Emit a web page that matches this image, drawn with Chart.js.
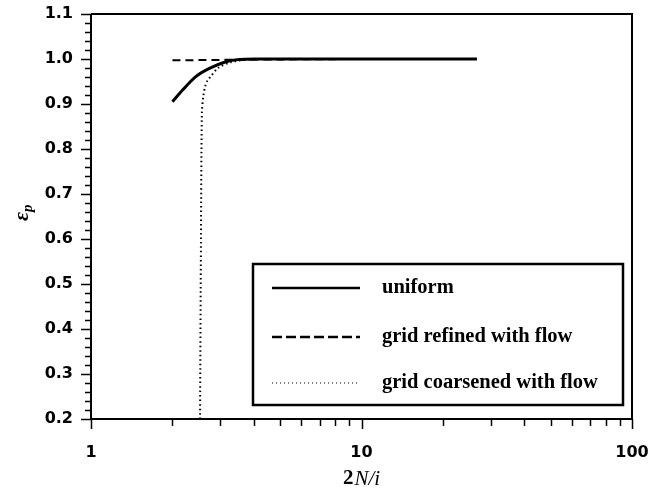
<!DOCTYPE html>
<html>
<head>
<meta charset="utf-8">
<script src="https://cdn.jsdelivr.net/npm/chart.js@4.4.0/dist/chart.umd.min.js"></script>
<style>
    html, body { margin: 0; padding: 0; background: #fff; }
    #wrap { width: 650px; height: 493px; }
</style>
</head>
<body>
<div id="wrap"><canvas id="chart" width="650" height="493"></canvas></div>
<script>
// data
const uniformX = [2.0, 2.18, 2.44, 2.74, 3.15, 3.53, 4.2, 5, 7, 10, 15, 20, 26.7];
const uniformY = [0.905, 0.931, 0.961, 0.979, 0.994, 0.999, 1.0, 1.0, 1.0, 1.0, 1.0, 1.0, 1.0];

const refinedX = [2.0, 3, 5, 10, 26.7];
const refinedY = [0.997, 0.998, 0.999, 1.0, 1.0];

const coarseX = [2.53, 2.55, 2.57, 2.60, 2.64, 2.70, 2.77, 2.95, 3.3, 3.8, 5, 10, 26.7];
const coarseY = [0.2, 0.6, 0.88, 0.916, 0.938, 0.953, 0.961, 0.98, 0.993, 0.999, 1.0, 1.0, 1.0];

const seriesNames = ['uniform', 'grid refined with flow', 'grid coarsened with flow'];
const xTickLabels = [1, 10, 100];
const yMin = 0.2, yMax = 1.1;

function toPoints(xs, ys) {
    return xs.map((x, i) => ({ x: x, y: ys[i] }));
}

// 坐标轴刻度、外框、图例和轴标题
const decor = {
    id: 'decor',
    afterDraw(chart) {
        const c = chart.ctx;
        const a = chart.chartArea;
        const xs = chart.scales.x, ys = chart.scales.y;
        c.save();
        c.strokeStyle = '#000';
        c.lineWidth = 2;
        // frame
        c.beginPath();
        c.moveTo(a.left, a.top); c.lineTo(a.right, a.top); c.lineTo(a.right, a.bottom);
        c.moveTo(a.left, a.top); c.lineTo(a.left, a.bottom); c.lineTo(a.right, a.bottom);
        c.stroke();

        // x ticks (log)
        c.lineWidth = 1.5;
        c.beginPath();
        for (let d = 1; d < 100; d *= 10) {
            for (let k = 1; k <= 10; k++) {
                const v = d * k;
                const px = Math.round(xs.getPixelForValue(v)) + 0.5;
                const len = (k === 1 || k === 10) ? 10 : 7;
                c.moveTo(px, a.bottom); c.lineTo(px, a.bottom + len);
            }
        }
        // y ticks
        for (let i = 0; i <= 45; i++) {
            const v = yMin + i * 0.02;
            const py = Math.round(ys.getPixelForValue(v)) + 0.5;
            const len = (i % 5 === 0) ? 10 : 6;
            c.moveTo(a.left, py); c.lineTo(a.left - len, py);
        }
        c.stroke();

        // legend box
        const box = { l: 253, t: 264, r: 623, b: 405 };
        c.lineWidth = 2.5;
        c.strokeRect(box.l, box.t, box.r - box.l, box.b - box.t);
        const rows = [288, 337, 383];
        c.font = 'bold 20.5px "Liberation Serif", serif';
        c.textBaseline = 'middle';
        c.fillStyle = '#000';
        chart.data.datasets.forEach((ds, i) => {
            c.beginPath();
            c.lineWidth = i === 2 ? 1 : 2.5;
            c.setLineDash(i === 1 ? [10, 4] : (i === 2 ? [1, 3] : []));
            c.moveTo(272, rows[i]); c.lineTo(360, rows[i]);
            c.stroke();
            c.setLineDash([]);
            c.fillText(ds.label, 382, rows[i]);
        });

        // y title  ε_p
        c.save();
        c.translate(22, 212);
        c.rotate(-Math.PI / 2);
        c.textBaseline = 'alphabetic';
        c.textAlign = 'left';
        c.font = 'bold italic 22px "Liberation Serif", serif';
        const ew = c.measureText('ε').width;
        c.fillText('ε', -9, 6);
        c.font = 'bold italic 15px "Liberation Serif", serif';
        c.fillText('p', -9 + ew, 10);
        c.restore();

        // x title  2N/i
        c.textBaseline = 'middle';
        c.textAlign = 'left';
        c.font = 'bold 21px "Liberation Serif", serif';
        const w2 = c.measureText('2').width;
        c.font = 'italic 21px "Liberation Serif", serif';
        const wr = c.measureText('N/i').width;
        const x0 = 361 - (w2 + wr) / 2;
        c.font = 'bold 21px "Liberation Serif", serif';
        c.fillText('2', x0, 479);
        c.font = 'italic 21px "Liberation Serif", serif';
        c.fillText('N/i', x0 + w2 + 1, 479);
        c.restore();
    }
};

const ctx = document.getElementById('chart');
new Chart(ctx, {
    type: 'line',
    data: {
        datasets: [{
            label: seriesNames[0],
            data: toPoints(uniformX, uniformY),
            borderColor: '#000',
            borderWidth: 3,
            pointRadius: 0,
            tension: 0.3,
            order: 1
        }, {
            label: seriesNames[1],
            data: toPoints(refinedX, refinedY),
            borderColor: '#000',
            borderWidth: 2,
            borderDash: [8, 5],
            pointRadius: 0,
            tension: 0,
            order: 2
        }, {
            label: seriesNames[2],
            data: toPoints(coarseX, coarseY),
            borderColor: '#000',
            borderWidth: 2,
            borderDash: [1.5, 3],
            pointRadius: 0,
            tension: 0.3,
            order: 3
        }]
    },
    options: {
        responsive: false,
        animation: false,
        layout: { padding: { left: 0, right: 18, top: 14, bottom: 0 } },
        plugins: {
            legend: { display: false },
            tooltip: { enabled: false }
        },
        scales: {
            x: {
                type: 'logarithmic',
                min: 1,
                max: 100,
                grid: { display: false, drawTicks: false },
                border: { display: false },
                afterFit(scale) {
                    scale.height = 74;
                    scale.paddingLeft = 0;
                    scale.paddingRight = 0;
                },
                ticks: {
                    autoSkip: false,
                    maxRotation: 0,
                    padding: 24,
                    color: '#000',
                    font: { family: '"DejaVu Sans"', size: 16, weight: 'bold' },
                    callback: function(v) {
                        return xTickLabels.includes(v) ? String(v) : '';
                    }
                }
            },
            y: {
                type: 'linear',
                min: yMin,
                max: yMax,
                grid: { display: false, drawTicks: false },
                border: { display: false },
                afterFit(scale) {
                    scale.width = 91;
                    scale.paddingTop = 0;
                    scale.paddingBottom = 0;
                },
                ticks: {
                    stepSize: 0.1,
                    padding: 18,
                    color: '#000',
                    font: { family: '"DejaVu Sans"', size: 16, weight: 'bold' },
                    callback: function(v) { return v.toFixed(1); }
                }
            }
        }
    },
    plugins: [decor]
});
</script>
</body>
</html>
